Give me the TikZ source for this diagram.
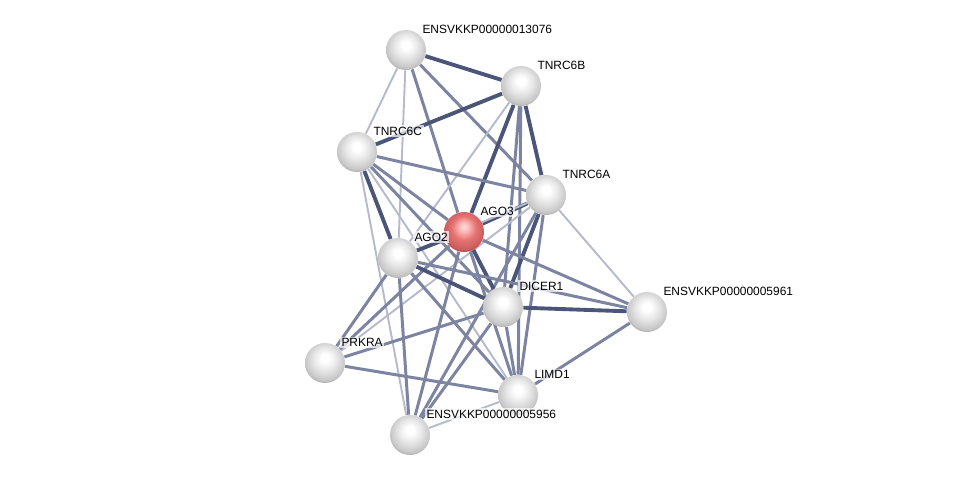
\documentclass[tikz,border=0pt]{standalone}
\usepackage{fontspec}
\setmainfont{Liberation Sans}
\usepackage{xcolor}
\usepackage{tikz}
\usetikzlibrary{shapes, backgrounds}

\definecolor{edgestrong}{HTML}{4B5578}
\definecolor{edgemid}{HTML}{7C84A2}
\definecolor{edgeweak}{HTML}{B5BACD}

\pgfdeclareradialshading{greyball}{\pgfpoint{0bp}{7bp}}{%
  color(0bp)=(white); color(5bp)=(white); color(15bp)=(black!10);
  color(25bp)=(black!22); color(32bp)=(black!42); color(50bp)=(black!42)}
\pgfdeclareradialshading{redball}{\pgfpoint{0bp}{7bp}}{%
  color(0bp)=(red!15!white); color(5bp)=(red!25!white); color(15bp)=(red!50!white!90!black);
  color(25bp)=(red!55!white!80!black); color(32bp)=(red!60!black!80); color(50bp)=(red!60!black!80)}

\begin{document}
\begin{tikzpicture}[
  x=0.2mm, y=-0.2mm,
  protein/.style={circle, minimum size=8mm, inner sep=0pt, shading=greyball, label distance=1.2pt},
  query/.style={protein, shading=redball},
  lbl/.style={font=\fontsize{6.8}{8}\selectfont, inner sep=1pt, fill=white, fill opacity=0.7, text opacity=1},
  strong/.style={draw=edgestrong, line width=2.2pt},
  mid/.style={draw=edgemid, line width=1.7pt},
  weak/.style={draw=edgeweak, line width=1.1pt}
]

\useasboundingbox (0,0) rectangle (976,481);

\node[protein, label={[lbl]45:ENSVKKP00000013076}] (e13076) at (406, 50) {};
\node[protein, label={[lbl]45:TNRC6B}] (tnrc6b) at (521, 86) {};
\node[protein, label={[lbl]45:TNRC6C}] (tnrc6c) at (357, 152) {};
\node[protein, label={[lbl]45:TNRC6A}] (tnrc6a) at (546, 195) {};
\node[query, label={[lbl]45:AGO3}] (ago3) at (464, 232) {};
\node[protein, label={[lbl]45:AGO2}] (ago2) at (398, 258) {};
\node[protein, label={[lbl]45:DICER1}] (dicer1) at (503, 307) {};
\node[protein, label={[lbl]45:ENSVKKP00000005961}] (e5961) at (647, 312) {};
\node[protein, label={[lbl]45:PRKRA}] (prkra) at (325, 363) {};
\node[protein, label={[lbl]45:LIMD1}] (limd1) at (518, 395) {};
\node[protein, label={[lbl]45:ENSVKKP00000005956}] (e5956) at (410, 435) {};

\begin{scope}[on background layer]
\draw[strong] (e13076) -- (tnrc6b);
\draw[weak] (e13076) -- (tnrc6c);
\draw[weak] (e13076) -- (ago2);
\draw[mid] (e13076) -- (ago3);
\draw[mid] (e13076) -- (tnrc6a);
\draw[strong] (tnrc6b) -- (tnrc6c);
\draw[strong] (tnrc6b) -- (tnrc6a);
\draw[strong] (tnrc6b) -- (ago3);
\draw[weak] (tnrc6b) -- (ago2);
\draw[mid] (tnrc6b) -- (dicer1);
\draw[mid] (tnrc6b) -- (limd1);
\draw[mid] (tnrc6c) -- (tnrc6a);
\draw[mid] (tnrc6c) -- (ago3);
\draw[strong] (tnrc6c) -- (ago2);
\draw[mid] (tnrc6c) -- (dicer1);
\draw[weak] (tnrc6c) -- (limd1);
\draw[weak] (tnrc6c) -- (e5956);
\draw[strong] (tnrc6a) -- (ago3);
\draw[weak] (tnrc6a) -- (ago2);
\draw[strong] (tnrc6a) -- (dicer1);
\draw[mid] (tnrc6a) -- (limd1);
\draw[mid] (tnrc6a) -- (e5956);
\draw[weak] (tnrc6a) -- (e5961);
\draw[weak] (tnrc6a) -- (prkra);
\draw[strong] (ago3) -- (ago2);
\draw[strong] (ago3) -- (dicer1);
\draw[mid] (ago3) -- (limd1);
\draw[mid] (ago3) -- (e5956);
\draw[mid] (ago3) -- (prkra);
\draw[mid] (ago3) -- (e5961);
\draw[strong] (ago2) -- (dicer1);
\draw[mid] (ago2) -- (limd1);
\draw[mid] (ago2) -- (e5956);
\draw[mid] (ago2) -- (prkra);
\draw[mid] (ago2) -- (e5961);
\draw[mid] (dicer1) -- (prkra);
\draw[mid] (dicer1) -- (limd1);
\draw[mid] (dicer1) -- (e5956);
\draw[strong] (dicer1) -- (e5961);
\draw[mid] (limd1) -- (prkra);
\draw[weak] (limd1) -- (e5956);
\draw[mid] (limd1) -- (e5961);
\end{scope}

\end{tikzpicture}
\end{document}
